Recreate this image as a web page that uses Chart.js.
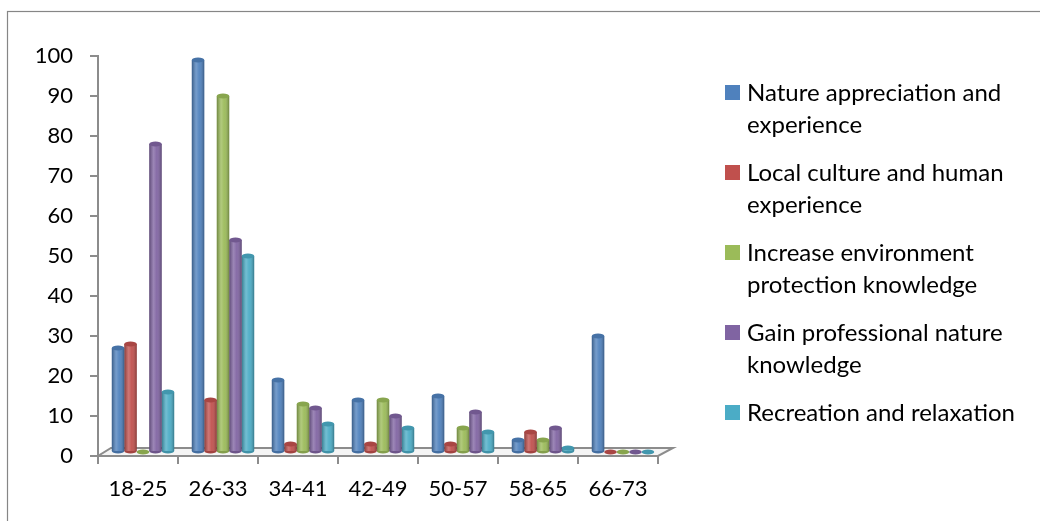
<!DOCTYPE html>
<html>
<head>
<meta charset="utf-8">
<script src="https://cdn.jsdelivr.net/npm/chart.js@4.4.1/dist/chart.umd.min.js"></script>
<style>
  html, body { margin: 0; padding: 0; background: #ffffff; }
  #wrap { width: 1040px; height: 521px; position: relative; }
</style>
</head>
<body>
<div id="wrap"><canvas id="c" width="1040" height="521"></canvas></div>
<script>
// Age groups on the category axis
const ageGroups = ['18-25', '26-33', '34-41', '42-49', '50-57', '58-65', '66-73'];

// Legend names, broken where they wrap
const seriesNames = [
  ['Nature appreciation and', 'experience'],
  ['Local culture and human', 'experience'],
  ['Increase environment', 'protection knowledge'],
  ['Gain professional nature', 'knowledge'],
  ['Recreation and relaxation']
];

// Counts per motivation
const natureAppreciation = [26, 98, 18, 13, 14, 3, 29];
const localCulture       = [27, 13, 2, 2, 2, 5, 0];
const environmentKnow    = [0, 89, 12, 13, 6, 3, 0];
const professionalKnow   = [77, 53, 11, 9, 10, 6, 0];
const recreation         = [15, 49, 7, 6, 5, 1, 0];

// Value axis
const yMin = 0, yMax = 100, yStep = 10;

const seriesColors = ['#4F81BD', '#C0504D', '#9BBB59', '#8064A2', '#4BACC6'];
const seriesValues = [natureAppreciation, localCulture, environmentKnow, professionalKnow, recreation];

const FONT = 'Lato, "Open Sans", sans-serif';
const AXIS_GREY = '#8c8c8c';

// floor depth of the pseudo-3D plot
const DEPTH_X = 13, DEPTH_Y = 8;

function shade(hex, amt) {
  const n = parseInt(hex.slice(1), 16);
  let r = (n >> 16) & 255, g = (n >> 8) & 255, b = n & 255;
  const f = c => Math.max(0, Math.min(255, Math.round(amt >= 0 ? c + (255 - c) * amt : c * (1 + amt))));
  return `rgb(${f(r)},${f(g)},${f(b)})`;
}

// Outer frame, floor slab, and mid-depth placement of the bars
const framePlugin = {
  id: 'frame',
  beforeDraw(chart) {
    const ctx = chart.ctx;
    ctx.save();
    ctx.fillStyle = '#ffffff';
    ctx.fillRect(0, 0, chart.width, chart.height);
    ctx.strokeStyle = '#868686';
    ctx.lineWidth = 1.2;
    ctx.strokeRect(7.5, 11.5, chart.width + 20, chart.height + 20);
    ctx.restore();
  },
  beforeDatasetsDraw(chart) {
    const ctx = chart.ctx, a = chart.chartArea;
    ctx.save();
    ctx.beginPath();
    ctx.moveTo(a.left, a.bottom);
    ctx.lineTo(a.right, a.bottom);
    ctx.lineTo(a.right + DEPTH_X + 2, a.bottom - DEPTH_Y);
    ctx.lineTo(a.left + DEPTH_X, a.bottom - DEPTH_Y);
    ctx.closePath();
    ctx.fillStyle = '#f4f4f4';
    ctx.fill();
    ctx.strokeStyle = AXIS_GREY;
    ctx.lineWidth = 2;
    ctx.stroke();
    ctx.restore();
    // bars stand halfway back on the floor
    ctx.save();
    ctx.translate(DEPTH_X / 2 - 1.5, -DEPTH_Y / 2);
  },
  afterDatasetsDraw(chart) {
    chart.ctx.restore();
  }
};

// Cylinder shading: side gradient plus top cap on each bar
const cylinderPlugin = {
  id: 'cylinder',
  afterDatasetsDraw(chart) {
    const ctx = chart.ctx;
    ctx.save();
    ctx.translate(DEPTH_X / 2 - 1.5, -DEPTH_Y / 2);
    chart.data.datasets.forEach((ds, di) => {
      const meta = chart.getDatasetMeta(di);
      if (meta.hidden) return;
      meta.data.forEach(bar => {
        const p = bar.getProps(['x', 'y', 'base', 'width'], true);
        const l = p.x - p.width / 2, r = p.x + p.width / 2;
        const ry = 2.5;
        if (p.base - p.y > 0.5) {
          const g = ctx.createLinearGradient(l, 0, r, 0);
          g.addColorStop(0, 'rgba(0,0,0,0.28)');
          g.addColorStop(0.35, 'rgba(255,255,255,0.22)');
          g.addColorStop(0.6, 'rgba(255,255,255,0.05)');
          g.addColorStop(1, 'rgba(0,0,0,0.30)');
          ctx.fillStyle = g;
          ctx.fillRect(l, p.y, p.width, p.base - p.y);
          ctx.beginPath();
          ctx.ellipse(p.x, p.base, p.width / 2, ry, 0, 0, Math.PI);
          ctx.fillStyle = shade(ds.backgroundColor, -0.15);
          ctx.fill();
        }
        ctx.beginPath();
        ctx.ellipse(p.x, p.y, p.width / 2, ry, 0, 0, Math.PI * 2);
        ctx.fillStyle = shade(ds.backgroundColor, -0.12);
        ctx.fill();
      });
    });
    ctx.restore();
  }
};

// Legend on the right with wrapped names
const legendPlugin = {
  id: 'sideLegend',
  afterDraw(chart) {
    const ctx = chart.ctx;
    const boxX = 725, textX = 747, firstBase = 101, itemGap = 80, lineGap = 32, box = 15;
    ctx.save();
    ctx.font = `24px ${FONT}`;
    ctx.textBaseline = 'alphabetic';
    ctx.textAlign = 'left';
    chart.data.datasets.forEach((ds, i) => {
      const base = firstBase + i * itemGap;
      ctx.fillStyle = ds.backgroundColor;
      ctx.fillRect(boxX, base - 16, box, box);
      ctx.fillStyle = '#000000';
      seriesNames[i].forEach((line, j) => ctx.fillText(line, textX, base + j * lineGap));
    });
    ctx.restore();
  }
};

const datasets = seriesValues.map((vals, i) => ({
  label: seriesNames[i].join(' '),
  data: vals,
  backgroundColor: seriesColors[i],
  borderWidth: 0,
  categoryPercentage: 0.78,
  barPercentage: 1.0
}));

new Chart(document.getElementById('c'), {
  type: 'bar',
  data: { labels: ageGroups, datasets },
  options: {
    responsive: false,
    animation: false,
    layout: { padding: { top: 56, right: 382, left: 0, bottom: 0 } },
    plugins: { legend: { display: false }, tooltip: { enabled: false } },
    scales: {
      x: {
        grid: { display: true, drawOnChartArea: false, offset: true, tickLength: 8, color: AXIS_GREY, lineWidth: 2 },
        border: { display: true, color: AXIS_GREY, width: 2 },
        ticks: { color: '#000', font: { family: FONT, size: 22 }, padding: 12 },
        afterFit(s) { s.height = 65; }
      },
      y: {
        min: yMin, max: yMax,
        grid: { display: true, drawOnChartArea: false, tickLength: 8, color: AXIS_GREY, lineWidth: 2 },
        border: { display: true, color: AXIS_GREY, width: 2 },
        ticks: { stepSize: yStep, color: '#000', font: { family: FONT, size: 22 }, padding: 17 },
        afterFit(s) { s.width = 98; }
      }
    }
  },
  plugins: [framePlugin, cylinderPlugin, legendPlugin]
});
</script>
</body>
</html>
